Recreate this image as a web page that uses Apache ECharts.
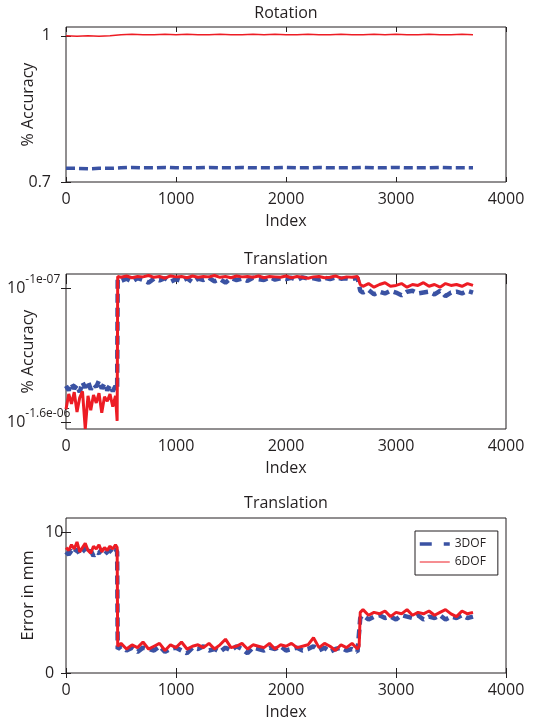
<!DOCTYPE html>
<html>
<head>
<meta charset="utf-8">
<script src="https://cdn.jsdelivr.net/npm/echarts@6/dist/echarts.min.js"></script>
<style>
  html, body { margin: 0; padding: 0; background: #fff; }
  #main { width: 556px; height: 723px; }
</style>
</head>
<body>
<div id="main"></div>
<script>
// --- data ---
var rotIndex = [0,100,200,300,400,500,600,700,800,900,1000,1100,1200,1300,1400,1500,1600,1700,1800,1900,
  2000,2100,2200,2300,2400,2500,2600,2700,2800,2900,3000,3100,3200,3300,3400,3500,3600,3700];
var rot3dof = [0.728,0.728,0.727,0.728,0.728,
  0.729,0.730,0.729,0.729,0.730,0.729,0.729,0.729,0.730,0.729,
  0.729,0.730,0.729,0.729,0.729,0.730,0.729,0.729,0.730,0.729,
  0.729,0.729,0.730,0.729,0.729,0.730,0.729,0.729,0.729,0.730,
  0.729,0.729,0.729];
var rot6dof = [1.000,0.999,1.000,0.999,1.000,
  1.002,1.003,1.002,1.002,1.003,1.002,1.003,1.002,1.002,1.003,
  1.002,1.002,1.003,1.002,1.003,1.002,1.002,1.003,1.002,1.002,
  1.003,1.002,1.002,1.003,1.002,1.003,1.002,1.002,1.003,1.002,
  1.002,1.003,1.002];

var transIndex = [0,25,50,75,100,125,150,175,200,225,250,275,300,325,350,375,400,425,450,465,
  470,500,550,600,650,700,750,800,850,900,950,1000,1050,1100,1150,1200,1250,1300,1350,1400,
  1450,1500,1550,1600,1650,1700,1750,1800,1850,1900,1950,2000,2050,2100,2150,2200,2250,2300,
  2350,2400,2450,2500,2550,2600,2650,2665,
  2675,2700,2750,2800,2850,2900,2950,3000,3050,3100,3150,3200,3250,3300,3350,3400,3450,3500,
  3550,3600,3650,3700];

// exponent of the accuracy, in units of 1e-7
var trans3dof = [-11.9,-12.4,-11.6,-12.2,-11.8,-12.6,-11.5,-12.1,-11.4,-12.3,
  -11.7,-12.0,-11.3,-12.2,-11.6,-12.4,-11.8,-12.5,-11.9,-12.2,
  0.0,-0.2,0.05,-0.3,0.1,-0.1,-0.4,0.05,-0.15,0.1,
  -0.3,0.0,-0.2,0.1,-0.35,0.05,-0.1,0.15,-0.25,0.0,
  -0.4,0.1,-0.1,0.05,-0.2,0.15,0.0,-0.1,0.2,-0.05,
  0.1,0.0,0.15,-0.1,0.2,0.05,0.1,-0.05,0.15,0.0,
  0.2,0.05,0.1,0.0,0.15,0.1,
  -1.3,-1.5,-1.2,-1.7,-1.4,-1.6,-1.3,-1.5,-1.8,-1.4,
  -1.3,-1.6,-1.5,-1.4,-1.7,-1.3,-1.9,-1.5,-1.4,-1.6,
  -1.3,-1.5];
var trans6dof = [-14.5,-12.8,-13.9,-12.6,-14.8,-13.2,-12.5,-16.7,-13.0,-14.6,
  -12.9,-13.8,-12.7,-14.9,-13.1,-13.6,-12.8,-14.2,-13.0,-15.8,
  0.3,0.2,0.35,0.15,0.3,0.25,0.4,0.2,0.3,0.1,
  0.35,0.25,0.3,0.15,0.35,0.2,0.3,0.25,0.4,0.2,
  0.3,0.15,0.35,0.25,0.3,0.2,0.35,0.15,0.3,0.25,
  0.2,0.35,0.15,0.3,0.2,0.1,0.25,0.3,0.15,0.2,
  0.35,0.1,0.25,0.2,0.3,0.25,
  -0.6,-0.8,-0.5,-0.9,-0.6,-0.4,-0.8,-0.7,-0.5,-0.9,
  -0.6,-0.7,-0.4,-0.8,-0.6,-0.9,-0.5,-0.7,-0.6,-0.8,
  -0.5,-0.7];

var err3dof = [8.6,8.4,8.7,8.5,8.8,8.4,8.6,8.9,8.5,8.7,
  8.3,8.6,8.5,8.8,8.4,8.6,8.7,8.5,8.8,8.6,
  1.7,1.9,1.6,1.8,1.5,1.8,1.7,1.6,1.9,1.5,
  1.7,1.8,1.6,1.4,1.8,1.7,1.9,1.6,1.7,1.5,
  1.8,1.6,1.9,1.7,1.4,1.8,1.7,1.6,1.8,1.7,
  1.9,1.6,1.7,1.8,1.6,1.7,1.9,1.6,1.8,1.5,
  1.7,1.8,1.6,1.7,1.5,1.6,
  3.9,4.1,3.8,4.0,4.1,3.9,4.0,3.8,4.1,4.0,
  3.9,4.1,3.8,4.0,3.9,4.1,3.8,4.0,3.9,4.1,
  3.9,4.0];
var err6dof = [8.9,8.7,9.1,8.8,9.3,8.6,8.9,9.2,8.7,8.5,
  9.0,8.8,9.1,8.6,8.9,8.7,9.0,8.8,9.1,8.9,
  1.9,2.1,1.7,2.0,1.8,2.2,1.7,1.9,2.1,1.6,
  2.0,1.8,2.2,1.7,1.9,2.0,1.8,2.1,1.7,2.0,
  2.4,1.8,1.9,2.1,1.7,2.0,1.9,1.8,2.1,1.7,
  2.0,1.9,2.1,1.8,1.9,2.0,2.5,1.8,2.1,1.9,
  1.6,2.0,1.8,2.1,1.7,1.9,
  4.3,4.5,4.1,4.3,4.2,4.4,4.0,4.3,4.2,4.5,
  4.1,4.3,4.2,4.4,4.1,4.3,4.5,4.2,4.0,4.4,
  4.2,4.3];

var titles = ['Rotation', 'Translation', 'Translation'];
var yNames = ['% Accuracy', '% Accuracy', 'Error in mm'];
var rotTicks = [0.7, 1];
var transTicks = [-16, -1];
var transTickLabels = { '-16': '-1.6e-06', '-1': '-1e-07' };
var errTicks = [0, 10];

// --- styling ---
var ink = '#231f20';
var blue = '#3a52a3';
var red = '#ed1c24';
var font = 'Open Sans';
var grids = [
  { left: 66, top: 27, width: 440, height: 155 },
  { left: 66, top: 274, width: 440, height: 155 },
  { left: 66, top: 518, width: 440, height: 155 }
];
var titleTops = [5, 251, 495];

function pairs(xs, ys) {
  return xs.map(function (x, i) { return [x, ys[i]]; });
}

var xAxes = [], yAxes = [];
grids.forEach(function (g, i) {
  g.show = true;
  g.borderColor = ink;
  g.borderWidth = 1;
  g.containLabel = false;
  g.outerBoundsMode = 'none';
  var tick = { inside: true, length: 5, lineStyle: { color: ink, width: 1 } };
  xAxes.push({
    type: 'value', gridIndex: i, position: 'bottom', min: 0, max: 4000, interval: 1000,
    name: 'Index', nameLocation: 'middle', nameGap: 31, nameMoveOverlap: false,
    nameTextStyle: { fontSize: 16, color: ink, fontFamily: font },
    axisLine: { show: false }, axisTick: tick, splitLine: { show: false },
    axisLabel: { margin: 9, fontSize: 16, color: ink, fontFamily: font,
      formatter: function (v) { return String(v); } }
  });
  xAxes.push({
    type: 'value', gridIndex: i, position: 'top', min: 0, max: 4000, interval: 1000,
    axisLine: { show: false }, axisTick: tick, splitLine: { show: false },
    axisLabel: { show: false }
  });
});

var yDefs = [
  { min: 0.7, max: 1.018, ticks: rotTicks,
    label: { margin: 15, formatter: function (v) { return String(+(+v).toFixed(1)); } } },
  { min: -16.7, max: 0.57, ticks: transTicks,
    label: { margin: 59, align: 'left',
      formatter: function (v) { return '{b|10}{s|' + transTickLabels[String(Math.round(v))] + '}'; },
      rich: {
        b: { fontSize: 16, color: ink, fontFamily: font },
        s: { fontSize: 12, color: ink, fontFamily: font, padding: [0, 0, 18, 0] }
      } } },
  { min: 0, max: 11, ticks: errTicks,
    label: { margin: 21, align: 'left', formatter: function (v) { return String(Math.round(v)); } } }
];
yDefs.forEach(function (d, i) {
  var tick = { inside: true, length: 5, customValues: d.ticks, lineStyle: { color: ink, width: 1 } };
  var lab = Object.assign({ customValues: d.ticks, fontSize: 16, color: ink, fontFamily: font }, d.label);
  yAxes.push({
    type: 'value', gridIndex: i, position: 'left', min: d.min, max: d.max,
    name: yNames[i], nameLocation: 'middle', nameGap: 30, nameMoveOverlap: false,
    nameTextStyle: { fontSize: 16, color: ink, fontFamily: font },
    axisLine: { show: false }, axisTick: tick, splitLine: { show: false }, axisLabel: lab
  });
  yAxes.push({
    type: 'value', gridIndex: i, position: 'right', min: d.min, max: d.max,
    axisLine: { show: false }, axisTick: tick, splitLine: { show: false },
    axisLabel: { show: false }
  });
});

function line(name, g, data, color, width, dash) {
  return {
    name: name, type: 'line', xAxisIndex: g * 2, yAxisIndex: g * 2, data: data,
    symbol: 'none', showSymbol: false, animation: false,
    itemStyle: { color: color },
    lineStyle: { color: color, width: width, type: dash || 'solid' }
  };
}

var option = {
  backgroundColor: '#fff',
  animation: false,
  title: titles.map(function (t, i) {
    return { text: t, left: 286, top: titleTops[i], textAlign: 'center', padding: 0,
      textStyle: { fontSize: 16, fontWeight: 'normal', color: ink, fontFamily: font } };
  }),
  grid: grids,
  xAxis: xAxes,
  yAxis: yAxes,
  legend: {
    orient: 'vertical', left: 415, top: 531, padding: [7, 12, 7, 3],
    itemWidth: 30, itemHeight: 12, itemGap: 6,
    borderColor: ink, borderWidth: 1, backgroundColor: '#fff',
    textStyle: { fontSize: 12, color: ink, fontFamily: font },
    data: [
      { name: '3DOF', itemStyle: { opacity: 0 }, lineStyle: { type: [12, 12], width: 3.5 } },
      { name: '6DOF', itemStyle: { opacity: 0 }, lineStyle: { width: 1 } }
    ]
  },
  series: [
    line('3DOF', 0, pairs(rotIndex, rot3dof), blue, 3.5, [9, 4]),
    line('6DOF', 0, pairs(rotIndex, rot6dof), red, 1.5),
    line('3DOF', 1, pairs(transIndex, trans3dof), blue, 4.5, [9, 5]),
    line('6DOF', 1, pairs(transIndex, trans6dof), red, 3),
    line('3DOF', 2, pairs(transIndex, err3dof), blue, 4.5, [9, 5]),
    line('6DOF', 2, pairs(transIndex, err6dof), red, 3)
  ]
};

var myChart = echarts.init(document.getElementById('main'));
myChart.setOption(option);
</script>
</body>
</html>
